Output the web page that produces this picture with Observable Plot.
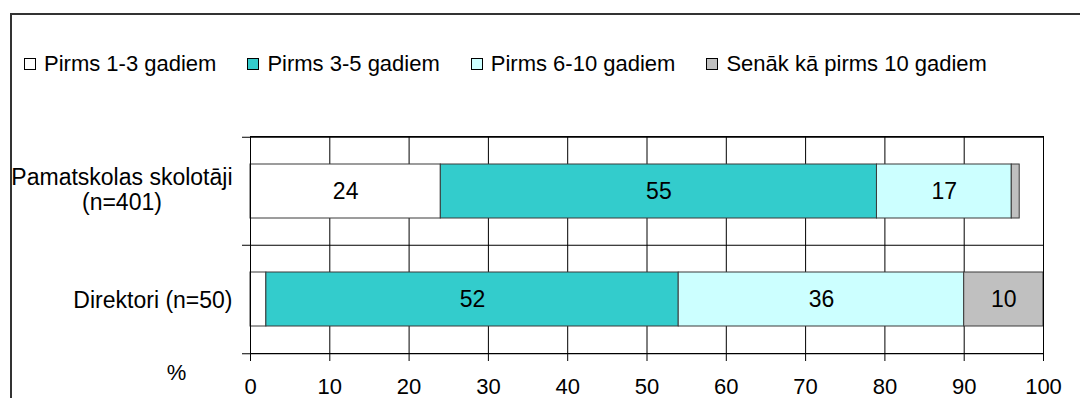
<!DOCTYPE html>
<html>
<head>
<meta charset="utf-8">
<script src="https://cdn.jsdelivr.net/npm/d3@7"></script>
<script src="https://cdn.jsdelivr.net/npm/@observablehq/plot@0.6"></script>
<style>
  body { margin: 0; background: #fff; }
  #wrap { position: relative; width: 1080px; height: 398px; overflow: hidden; background: #fff;
          font-family: "Liberation Sans", Arial, sans-serif; color: #000; }
  #border { position: absolute; left: 10px; top: 13px; right: -4px; bottom: -4px;
            border-top: 2px solid #333; border-left: 2px solid #333; pointer-events: none; }
  #legend { height: 110px; box-sizing: border-box; padding: 52px 0 0 24px; display: flex;
            align-items: flex-start; font-size: 22px; line-height: 23px; }
  #legend .item { display: flex; align-items: center; margin-right: 31px; white-space: nowrap; }
  #legend .sw { width: 10px; height: 10px; border: 1px solid #000; margin-right: 8px; }
  #chart svg { display: block; }
</style>
</head>
<body>
<div id="wrap">
  <div id="legend"></div>
  <div id="chart"></div>
  <div id="border"></div>
</div>
<script>
// Respondent groups (y axis), multi-line labels use "\n"
const categories = ["Pamatskolas skolotāji\n(n=401)", "Direktori (n=50)"];

// Answer categories and their fills
const seriesNames = ["Pirms 1-3 gadiem", "Pirms 3-5 gadiem", "Pirms 6-10 gadiem", "Senāk kā pirms 10 gadiem"];
const seriesColors = ["#FFFFFF", "#33CCCC", "#CCFFFF", "#C0C0C0"];

// Shares in %, one value per group
const values1to3 = [24, 2];
const values3to5 = [55, 52];
const values6to10 = [17, 36];
const valuesOlder = [1, 10];

const xTicks = [0, 10, 20, 30, 40, 50, 60, 70, 80, 90, 100];
const axisUnit = "%";

const seriesValues = [values1to3, values3to5, values6to10, valuesOlder];
const rows = seriesNames.flatMap((s, j) =>
  categories.map((c, i) => ({group: c, series: s, value: seriesValues[j][i]})));

// Legend
const legend = document.getElementById("legend");
seriesNames.forEach((name, j) => {
  const item = document.createElement("div");
  item.className = "item";
  const sw = document.createElement("div");
  sw.className = "sw";
  sw.style.background = seriesColors[j];
  const label = document.createElement("span");
  label.textContent = name;
  item.append(sw, label);
  legend.append(item);
});

const LABEL_FONT = "23px 'Liberation Sans', Arial, sans-serif";
const ctx = document.createElement("canvas").getContext("2d");
ctx.font = LABEL_FONT;
const blockWidth = (t) => Math.max(...t.split("\n").map(l => ctx.measureText(l).width));

const height = 288, marginTop = 26, marginBottom = 45;
const step = (height - marginTop - marginBottom) / categories.length;

// Group labels, each line centred within the block, block right-aligned to the axis
const rowLabels = categories.map(c =>
  Plot.text([c], {
    y: d => d, text: d => d, frameAnchor: "left", textAnchor: "middle",
    dx: -(18 + blockWidth(c) / 2), dy: c.includes("\n") ? -2 : 0,
    lineHeight: 1.09, fontSize: 23, fill: "#000"
  }));

const chart = Plot.plot({
  width: 1080,
  height,
  marginTop,
  marginBottom,
  marginLeft: 250,
  marginRight: 37,
  style: {fontFamily: "'Liberation Sans', Arial, sans-serif", fontSize: "22px", color: "#000", background: "transparent", overflow: "visible"},
  x: {domain: [0, 100], ticks: xTicks, label: null},
  y: {domain: categories, paddingInner: 0.5, paddingOuter: 0.25, axis: null},
  color: {domain: seriesNames, range: seriesColors},
  marks: [
    Plot.ruleX(xTicks.slice(1, -1), {stroke: "#000"}),
    Plot.ruleY(categories, {y: d => d, dy: -step / 2, insetLeft: -8, stroke: "#000"}),
    Plot.ruleY([categories[categories.length - 1]], {y: d => d, dy: step / 2, insetLeft: -8, stroke: "#000"}),
    Plot.barX(rows, {y: "group", x: "value", fill: "series", stroke: "#3a3a3a", strokeWidth: 1}),
    Plot.frame({stroke: "#000"}),
    Plot.axisX({ticks: xTicks, tickSize: 8, tickPadding: 17, label: null, stroke: "#000"}),
    Plot.text(rows, Plot.stackX({y: "group", x: "value", text: d => d.value >= 5 ? String(d.value) : "", fontSize: 23, fill: "#000"})),
    ...rowLabels,
    Plot.text([axisUnit], {frameAnchor: "bottom-left", textAnchor: "middle", lineAnchor: "middle", dx: -74, dy: 19, text: d => d, fill: "#000"})
  ]
});
document.getElementById("chart").append(chart);
</script>
</body>
</html>
